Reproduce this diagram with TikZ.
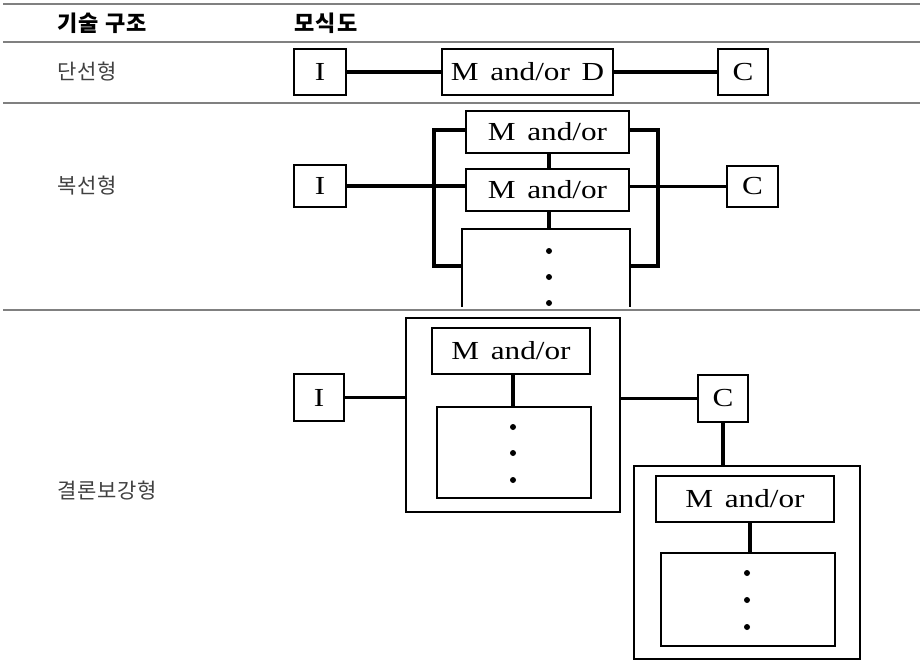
\documentclass[tikz,border=0pt]{standalone}
\usepackage{fontspec}
\setmainfont{Liberation Serif}[FakeStretch=1.2]
\newfontfamily\kr{Noto Sans CJK KR}[LetterSpace=4]
\newfontfamily\krhead{Noto Sans CJK KR}[LetterSpace=6]
\newcommand\gap{\hspace{0.45em}}
\begin{document}
\begin{tikzpicture}[x=1pt,y=-1pt,
  rule/.style={draw=black!50, line width=2pt},
  box/.style={draw=black, line width=1.2pt, fill=white, inner sep=0pt,
    font=\fontsize{26}{30}\selectfont},
  wire/.style={line width=3.4pt},
  head/.style={anchor=west, inner sep=0pt, font=\krhead\bfseries\fontsize{22}{26}\selectfont},
  rowlabel/.style={anchor=west, inner sep=0pt, text=black!75, font=\kr\fontsize{21}{25}\selectfont},
  dot/.style={fill=black}]
\useasboundingbox (0,0) rectangle (920,665);

% table rules
\draw[rule] (3,4) -- (920,4);
\draw[rule] (3,42) -- (920,42);
\draw[rule] (3,103) -- (920,103);
\draw[rule] (3,310) -- (920,310);

% header and row labels
\node[head] (hA) at (57,23) {기술\ 구조};
\node[head] (hB) at (294,23) {모식도};
\node[rowlabel] (r1) at (57,72) {단선형};
\node[rowlabel] (r2) at (57,186) {복선형};
\node[rowlabel] (r3) at (57,491) {결론보강형};

% single line
\node[box, minimum width=52pt, minimum height=46pt] (I1) at (320,72) {I};
\node[box, minimum width=171pt, minimum height=46pt] (MD) at (527.5,72) {M\gap and/or\gap D};
\node[box, minimum width=50pt, minimum height=46pt] (C1) at (743,72) {C};
\draw[wire] (I1) -- (MD);
\draw[wire] (MD) -- (C1);

% parallel lines
\node[box, minimum width=52pt, minimum height=42pt] (I2) at (320,186) {I};
\node[box, minimum width=163pt, minimum height=42pt] (MA) at (547.5,132) {M\gap and/or};
\node[box, minimum width=163pt, minimum height=42pt] (MB) at (547.5,190) {M\gap and/or};
\node[box, minimum width=51pt, minimum height=41pt] (C2) at (752.5,186.5) {C};
\coordinate (LT) at (434,130);
\coordinate (LB) at (434,266);
\coordinate (RT) at (658,130);
\coordinate (RB) at (658,266);
\begin{scope}
  \clip (380,215) rectangle (700,306);
  \node[box, minimum width=168pt, minimum height=91pt] (D2) at (546,274.5) {};
  \fill[dot] (549,251) circle (3pt);
  \fill[dot] (549,277) circle (3pt);
  \fill[dot] (549,303) circle (3pt);
\end{scope}
\draw[wire] (MA.west |- LT) -- (LT) -- (LB) -- (D2.west |- LB);
\draw[wire] (MA.east |- RT) -- (RT) -- (RB) -- (D2.east |- RB);
\draw[wire] (I2.east) -- (I2.east -| MB.west);
\draw[wire] (C2.west -| MB.east) -- (C2.west);
\draw[wire] (549,153) -- (549,169);
\draw[wire] (549,211) -- (549,229);

% reinforced conclusion
\node[box, minimum width=50pt, minimum height=47pt] (I3) at (319,397.5) {I};
\node[box, minimum width=214pt, minimum height=194pt] (O1) at (513,415) {};
\node[box, minimum width=158pt, minimum height=46pt] (MA3) at (511,351) {M\gap and/or};
\node[box, minimum width=154pt, minimum height=91pt] (D3) at (514,452.5) {};
\fill[dot] (513,427) circle (3pt);
\fill[dot] (513,453) circle (3pt);
\fill[dot] (513,480) circle (3pt);
\draw[wire] (513,374) -- (513,407);
\node[box, minimum width=50pt, minimum height=47pt] (C3) at (723,398.5) {C};
\draw[wire] (I3.east) -- (I3.east -| O1.west);
\draw[wire] (C3.west -| O1.east) -- (C3.west);
\node[box, minimum width=226pt, minimum height=193pt] (O2) at (747,562.5) {};
\node[box, minimum width=178pt, minimum height=46pt] (MA4) at (745,499) {M\gap and/or};
\node[box, minimum width=174pt, minimum height=93pt] (D4) at (748,599.5) {};
\fill[dot] (747,573) circle (3pt);
\fill[dot] (747,600) circle (3pt);
\fill[dot] (747,627) circle (3pt);
\draw[wire] (C3.south) -- (C3.south |- O2.north);
\draw[wire] (750,522) -- (750,553);
\end{tikzpicture}
\end{document}
